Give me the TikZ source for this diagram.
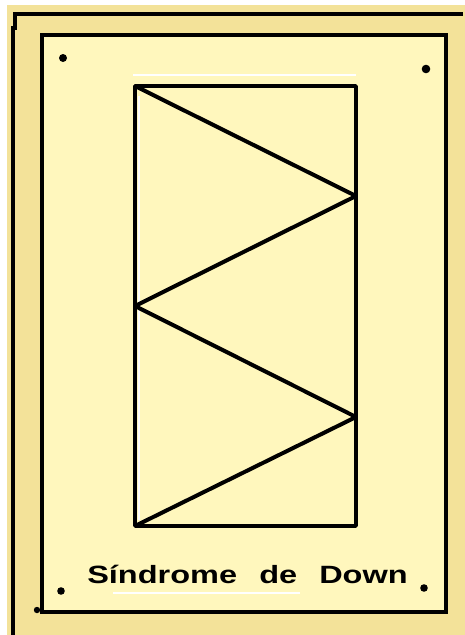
\documentclass[tikz,border=0pt]{standalone}
\usepackage{fontspec}
\usepackage{tikz}
\usetikzlibrary{calc}
\newfontfamily\titlefont{Liberation Sans}
\definecolor{cardTan}{RGB}{243,226,153}
\definecolor{cardCream}{RGB}{255,247,189}
\tikzset{
  frameline/.style={black,line width=3.5pt},
  panel/.style={draw=black,fill=cardCream,line width=4pt},
  zig/.style={black,line width=4pt,line join=bevel},
  pin/.style={fill=black,draw=none},
  smudge/.style={white,line width=2pt},
  caption/.style={font=\titlefont\bfseries\fontsize{25}{25}\selectfont,anchor=base,
                  xscale=1.3,transform shape,inner sep=0pt},
}

\begin{document}
\begin{tikzpicture}[x=1pt,y=-1pt]
  \useasboundingbox (0,0) rectangle (465,635);
  \fill[white](0,0) rectangle (465,635);
  \fill[cardTan](7,5) rectangle (465,635);
  % outer frame
  \draw[frameline](13,635)--(13,28)--(15,28)--(15,14)--(463,14);
  % inner panel
  \draw[panel](42,35) rectangle (446,612);
  \fill[pin](37,610) circle (3.2);
  % pins
  \fill[pin](63,58) circle (4);
  \fill[pin](426,69) circle (4.3);
  \fill[pin](61,591) circle (3.8);
  \fill[pin](424,588) circle (3.8);
  % erased traces
  \draw[smudge](133,75)--(356,75);
  \draw[smudge](139,96)--(139,520);
  \draw[smudge](113,593)--(300,593);
  % zigzag in the box
  \coordinate (z0) at (135,86);
  \coordinate (z1) at (356,196);
  \coordinate (z2) at (135,306);
  \coordinate (z3) at (356,417);
  \coordinate (z4) at (135,526);
  \draw[zig](z0) rectangle (z4 -| z1);
  \draw[zig](z0)--(z1)--(z2)--(z3)--(z4);
  \node[caption] (title) at (247.5,583) {S\'indrome\hspace{17pt}de\hspace{17pt}Down};
\end{tikzpicture}
\end{document}
